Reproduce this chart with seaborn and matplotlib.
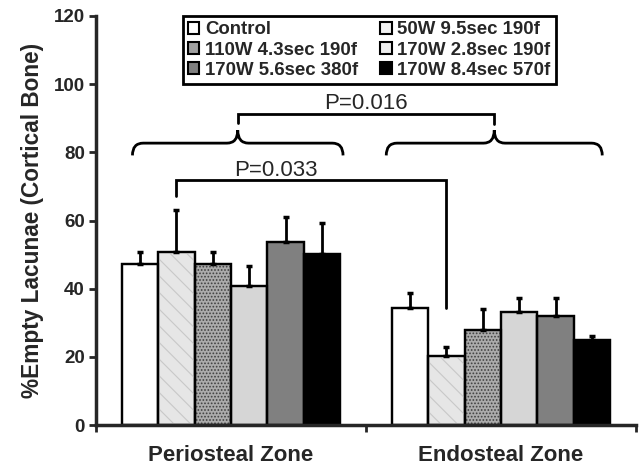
import numpy as np
import pandas as pd
import matplotlib
matplotlib.use("Agg")
import matplotlib.pyplot as plt
import seaborn as sns
from matplotlib.patches import Patch, Rectangle, PathPatch
from matplotlib.path import Path

# ---- data ----
zones = ["Periosteal Zone", "Endosteal Zone"]
groups = ["Control", "50W 9.5sec 190f", "110W 4.3sec 190f",
          "170W 2.8sec 190f", "170W 5.6sec 380f", "170W 8.4sec 570f"]
periosteal_mean = [47.2, 50.8, 47.2, 40.8, 53.7, 50.3]
periosteal_err = [3.6, 12.4, 3.6, 5.8, 7.2, 9.0]
endosteal_mean = [34.4, 20.2, 27.9, 33.2, 32.0, 24.9]
endosteal_err = [4.2, 2.8, 6.1, 4.1, 5.3, 1.2]
yticks = [0, 20, 40, 60, 80, 100, 120]
p_texts = ["P=0.016", "P=0.033"]

colors = ["#ffffff", "#e6e6e6", "#ababab", "#d6d6d6", "#808080", "#000000"]
legend_colors = ["#ffffff", "#f2f2f2", "#a0a0a0", "#eeeeee", "#808080", "#000000"]

df = pd.DataFrame({
    "zone": np.repeat(zones, len(groups)),
    "group": groups * 2,
    "value": periosteal_mean + endosteal_mean,
})
errs = {z: e for z, e in zip(zones, [periosteal_err, endosteal_err])}

sns.set_style("ticks")
plt.rcParams["font.family"] = ["Liberation Sans", "DejaVu Sans"]
plt.rcParams["hatch.linewidth"] = 0.8

fig = plt.figure(figsize=(6.39, 4.67), dpi=100)
ax = fig.add_axes([96 / 639, 1 - 425 / 467, (636 - 96) / 639, (425 - 16) / 467])

sns.barplot(data=df, x="zone", y="value", hue="group", order=zones,
            hue_order=groups, palette=colors, saturation=1, errorbar=None,
            edgecolor="black", linewidth=1.6, width=0.81, legend=False, ax=ax)

# textures + error bars
bars = {}
containers = list(ax.containers)
for gi, cont in enumerate(containers):
    for zi, bar in enumerate(cont):
        bx, bw, bh = bar.get_x(), bar.get_width(), bar.get_height()
        bars[(gi, zi)] = (bx, bw, bh)
        if gi == 1:
            ax.add_patch(Rectangle((bx, 0), bw, bh, fill=False, hatch="\\\\",
                                   edgecolor="#c8c8c8", linewidth=0, zorder=2.5))
        if gi == 2:
            ax.add_patch(Rectangle((bx, 0), bw, bh, fill=False, hatch=".....",
                                   edgecolor="#404040", linewidth=0, zorder=2.5))
        ax.add_patch(Rectangle((bx, 0), bw, bh, fill=False, edgecolor="black",
                               linewidth=1.6, zorder=2.6))
        e = errs[zones[zi]][gi]
        ax.errorbar(bx + bw / 2, bh, yerr=[[0], [e]], fmt="none", ecolor="black",
                    elinewidth=2, capsize=2, capthick=2.5, zorder=2.4)

ax.set_xlim(-0.5, 1.5)
ax.set_ylim(0, 120)
ax.set_yticks(yticks)
ax.set_xlabel("")
ax.set_ylabel("%Empty Lacunae (Cortical Bone)", fontsize=16.3, fontweight="bold",
              labelpad=7)
ax.set_xticks([0, 1])
ax.set_xticklabels(zones, fontsize=16, fontweight="bold")
ax.set_xticks([-0.5, 0.5, 1.5], minor=True)
ax.tick_params(axis="x", which="major", length=0, pad=14.5)
ax.tick_params(axis="x", which="minor", length=5, width=2, direction="out")
ax.tick_params(axis="y", length=5, width=2, direction="out", labelsize=13.5, pad=3)
for lab in ax.get_yticklabels():
    lab.set_fontweight("bold")
for s in ["top", "right"]:
    ax.spines[s].set_visible(False)
for s in ["left", "bottom"]:
    ax.spines[s].set_linewidth(2.5)
ax.spines["bottom"].set_zorder(3)


def brace(x0, x1, y, h_tip=3.6, h_mid=3.8, r=0.04):
    xm = (x0 + x1) / 2
    verts = [(x0, y - h_tip), (x0, y), (x0 + r, y),
             (xm - r, y), (xm, y), (xm, y + h_mid),
             (xm, y), (xm + r, y),
             (x1 - r, y), (x1, y), (x1, y - h_tip)]
    codes = [Path.MOVETO, Path.CURVE3, Path.CURVE3,
             Path.LINETO, Path.CURVE3, Path.CURVE3,
             Path.CURVE3, Path.CURVE3,
             Path.LINETO, Path.CURVE3, Path.CURVE3]
    ax.add_patch(PathPatch(Path(verts, codes), fill=False, edgecolor="black",
                           linewidth=2, zorder=3))
    return xm


# braces spanning each zone's bars
b_left0 = bars[(0, 0)][0] + 0.04
b_right0 = bars[(5, 0)][0] + bars[(5, 0)][1] + 0.01
b_left1 = bars[(0, 1)][0] - 0.02
b_right1 = bars[(5, 1)][0] + bars[(5, 1)][1] - 0.03
m0 = brace(b_left0, b_right0, 82.7)
m1 = brace(b_left1, b_right1, 82.7)

# P=0.016 bracket
ax.plot([m0, m0, m1, m1], [88.5, 91.3, 91.3, 88.3], color="black", lw=2, zorder=3,
        solid_joinstyle="miter")
ax.text((m0 + m1) / 2, 92.6, p_texts[0], ha="center", va="baseline", fontsize=16)

# P=0.033 bracket: between 50W bars of each zone
xa = bars[(1, 0)][0] + bars[(1, 0)][1] / 2
xb = bars[(1, 1)][0] + bars[(1, 1)][1] / 2
ax.plot([xa, xa, xb, xb], [67.2, 71.8, 71.8, 34.4], color="black", lw=2, zorder=3,
        solid_joinstyle="miter")
ax.text(xa + (xb - xa) * 0.37, 73.0, p_texts[1], ha="center", va="baseline", fontsize=16)

# legend (row-wise order: two columns)
order = [0, 2, 4, 1, 3, 5]
handles = [Patch(facecolor=legend_colors[i], edgecolor="black", linewidth=1.5) for i in order]
labels = [groups[i] for i in order]
leg = fig.legend(handles, labels, ncol=2, loc="upper left",
                 bbox_to_anchor=(183 / 639, 1 - 16 / 467), bbox_transform=fig.transFigure,
                 frameon=True, fancybox=False, edgecolor="black", framealpha=1,
                 prop={"weight": "bold", "size": 13.4}, handlelength=0.6,
                 handleheight=0.6, handletextpad=0.3, columnspacing=1.2,
                 labelspacing=0.18, borderpad=0.28, borderaxespad=0)
leg.get_frame().set_linewidth(2)

fig.savefig("out.png", dpi=100)
